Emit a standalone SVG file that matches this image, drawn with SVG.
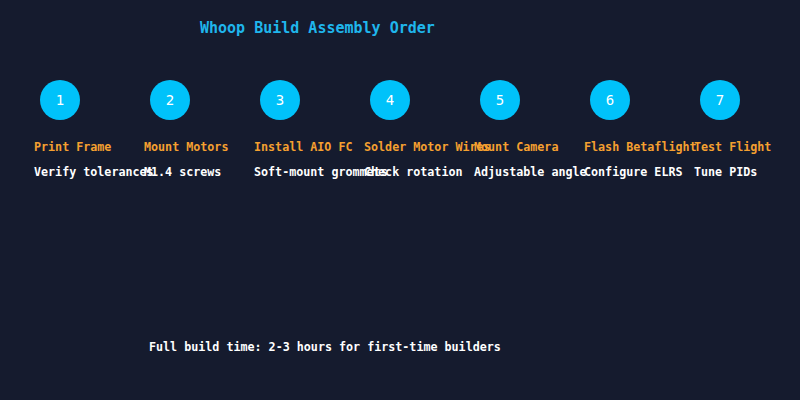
<svg xmlns="http://www.w3.org/2000/svg" width="800" height="400" viewBox="0 0 800 400">
<style>
text{font-family:"DejaVu Sans Mono","Liberation Mono",monospace}
.t{font-size:15px;font-weight:bold;fill:#1fb6ec}
.c{fill:#00c2fa}
.n{font-size:14px;fill:#ffffff;text-anchor:middle}
.l{font-size:11.7px;font-weight:bold;fill:#f5a030}
.s{font-size:11.7px;font-weight:bold;fill:#ffffff}
</style>
<rect width="800" height="400" fill="#151b2e"/>
<text class="t" x="200" y="33">Whoop Build Assembly Order</text>
<g id="connectors"></g>
<g id="step1"><circle class="c" cx="60" cy="100" r="20"/><text class="n" x="60" y="105">1</text><text class="l" x="34" y="151">Print Frame</text><text class="s" x="34" y="176">Verify tolerances</text></g>
<g id="step2"><circle class="c" cx="170" cy="100" r="20"/><text class="n" x="170" y="105">2</text><text class="l" x="144" y="151">Mount Motors</text><text class="s" x="144" y="176">M1.4 screws</text></g>
<g id="step3"><circle class="c" cx="280" cy="100" r="20"/><text class="n" x="280" y="105">3</text><text class="l" x="254" y="151">Install AIO FC</text><text class="s" x="254" y="176">Soft-mount grommets</text></g>
<g id="step4"><circle class="c" cx="390" cy="100" r="20"/><text class="n" x="390" y="105">4</text><text class="l" x="364" y="151">Solder Motor Wires</text><text class="s" x="364" y="176">Check rotation</text></g>
<g id="step5"><circle class="c" cx="500" cy="100" r="20"/><text class="n" x="500" y="105">5</text><text class="l" x="474" y="151">Mount Camera</text><text class="s" x="474" y="176">Adjustable angle</text></g>
<g id="step6"><circle class="c" cx="610" cy="100" r="20"/><text class="n" x="610" y="105">6</text><text class="l" x="584" y="151">Flash Betaflight</text><text class="s" x="584" y="176">Configure ELRS</text></g>
<g id="step7"><circle class="c" cx="720" cy="100" r="20"/><text class="n" x="720" y="105">7</text><text class="l" x="694" y="151">Test Flight</text><text class="s" x="694" y="176">Tune PIDs</text></g>
<text class="s" x="149" y="351">Full build time: 2-3 hours for first-time builders</text>
</svg>
